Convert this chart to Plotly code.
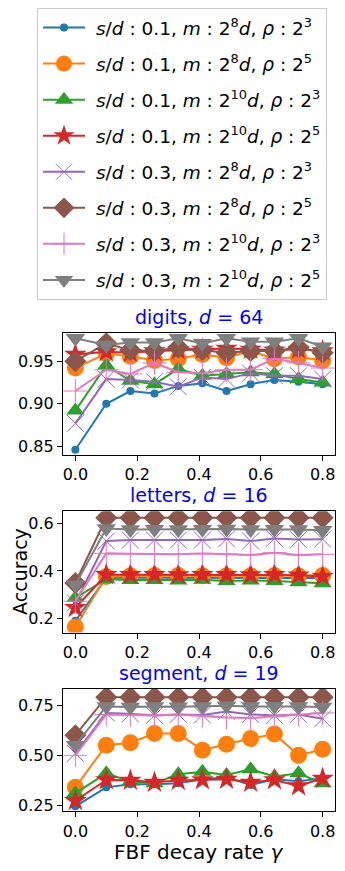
import plotly.graph_objects as go

# page body keeps an 8px margin, so lay out in reference pixels minus that offset
OFF = 8
FW, FH = 345 - 2 * OFF, 871 - 2 * OFF

GAMMA = [0.0, 0.1, 0.178, 0.256, 0.333, 0.411, 0.489, 0.567, 0.644, 0.722, 0.8]

LABELS = [
    "<i>s</i>/<i>d</i> : 0.1, <i>m</i> : 2<sup>8</sup><i>d</i>, <i>ρ</i> : 2<sup>3</sup>",
    "<i>s</i>/<i>d</i> : 0.1, <i>m</i> : 2<sup>8</sup><i>d</i>, <i>ρ</i> : 2<sup>5</sup>",
    "<i>s</i>/<i>d</i> : 0.1, <i>m</i> : 2<sup>10</sup><i>d</i>, <i>ρ</i> : 2<sup>3</sup>",
    "<i>s</i>/<i>d</i> : 0.1, <i>m</i> : 2<sup>10</sup><i>d</i>, <i>ρ</i> : 2<sup>5</sup>",
    "<i>s</i>/<i>d</i> : 0.3, <i>m</i> : 2<sup>8</sup><i>d</i>, <i>ρ</i> : 2<sup>3</sup>",
    "<i>s</i>/<i>d</i> : 0.3, <i>m</i> : 2<sup>8</sup><i>d</i>, <i>ρ</i> : 2<sup>5</sup>",
    "<i>s</i>/<i>d</i> : 0.3, <i>m</i> : 2<sup>10</sup><i>d</i>, <i>ρ</i> : 2<sup>3</sup>",
    "<i>s</i>/<i>d</i> : 0.3, <i>m</i> : 2<sup>10</sup><i>d</i>, <i>ρ</i> : 2<sup>5</sup>",
]

DIGITS = [
    [0.846, 0.900, 0.915, 0.912, 0.921, 0.924, 0.915, 0.923, 0.928, 0.926, 0.923],
    [0.942, 0.959, 0.956, 0.951, 0.953, 0.958, 0.954, 0.962, 0.953, 0.955, 0.951],
    [0.892, 0.945, 0.927, 0.923, 0.941, 0.933, 0.935, 0.937, 0.935, 0.929, 0.925],
    [0.958, 0.961, 0.960, 0.962, 0.963, 0.964, 0.965, 0.964, 0.963, 0.964, 0.962],
    [0.877, 0.929, 0.928, 0.926, 0.920, 0.931, 0.929, 0.936, 0.933, 0.933, 0.929],
    [0.950, 0.971, 0.963, 0.962, 0.966, 0.963, 0.960, 0.962, 0.962, 0.966, 0.960],
    [0.915, 0.940, 0.935, 0.948, 0.937, 0.936, 0.940, 0.940, 0.953, 0.948, 0.942],
    [0.977, 0.969, 0.972, 0.972, 0.977, 0.971, 0.977, 0.973, 0.973, 0.977, 0.967],
]

LETTERS = [
    [0.190, 0.370, 0.372, 0.372, 0.372, 0.372, 0.371, 0.372, 0.372, 0.370, 0.370],
    [0.164, 0.377, 0.380, 0.381, 0.381, 0.380, 0.380, 0.380, 0.381, 0.379, 0.381],
    [0.286, 0.365, 0.362, 0.362, 0.360, 0.363, 0.358, 0.360, 0.358, 0.352, 0.348],
    [0.245, 0.384, 0.384, 0.384, 0.383, 0.384, 0.384, 0.383, 0.384, 0.382, 0.377],
    [0.265, 0.526, 0.530, 0.530, 0.530, 0.530, 0.535, 0.526, 0.537, 0.532, 0.534],
    [0.349, 0.624, 0.624, 0.624, 0.624, 0.624, 0.624, 0.624, 0.624, 0.624, 0.624],
    [0.272, 0.474, 0.472, 0.472, 0.470, 0.474, 0.472, 0.467, 0.477, 0.467, 0.470],
    [0.342, 0.579, 0.575, 0.576, 0.575, 0.576, 0.577, 0.575, 0.576, 0.575, 0.572],
]

SEGMENT = [
    [0.245, 0.340, 0.355, 0.355, 0.360, 0.380, 0.390, 0.352, 0.380, 0.370, 0.385],
    [0.340, 0.551, 0.563, 0.609, 0.609, 0.526, 0.556, 0.584, 0.607, 0.500, 0.531],
    [0.311, 0.410, 0.369, 0.360, 0.405, 0.418, 0.402, 0.430, 0.394, 0.410, 0.360],
    [0.273, 0.377, 0.375, 0.365, 0.374, 0.377, 0.380, 0.365, 0.377, 0.347, 0.385],
    [0.510, 0.712, 0.708, 0.700, 0.705, 0.702, 0.720, 0.705, 0.700, 0.705, 0.683],
    [0.601, 0.791, 0.791, 0.791, 0.791, 0.791, 0.791, 0.791, 0.791, 0.791, 0.791],
    [0.500, 0.705, 0.702, 0.700, 0.705, 0.698, 0.690, 0.687, 0.695, 0.705, 0.712],
    [0.551, 0.745, 0.742, 0.745, 0.743, 0.745, 0.748, 0.745, 0.746, 0.745, 0.742],
]

COLORS = ["#1f77b4", "#ff7f0e", "#2ca02c", "#d62728",
          "#9467bd", "#8c564b", "#e377c2", "#7f7f7f"]
SYMBOLS = ["circle", "circle", "triangle-up", "star",
           "x-thin", "diamond", "cross-thin", "triangle-down"]
SIZES = [8, 17, 16, 17, 17, 17, 17, 17]

PANELS = [
    ("digits, <i>d</i> = 64", DIGITS, [0.84, 0.9835], [0.85, 0.90, 0.95], ".2f"),
    ("letters, <i>d</i> = 16", LETTERS, [0.14, 0.652], [0.2, 0.4, 0.6], ".1f"),
    ("segment, <i>d</i> = 19", SEGMENT, [0.22, 0.8325], [0.25, 0.50, 0.75], ".2f"),
]
# axes boxes in reference pixels (top, bottom)
BOXES = [(333, 456), (512.7, 635), (691.7, 815)]
X0, X1 = 63, 335
FONT = "DejaVu Sans"


def xp(px):
    return (px - OFF) / FW


def yp(py):
    return 1 - (py - OFF) / FH


fig = go.Figure()
for p, (title, data, yr, yt, yf) in enumerate(PANELS):
    ax = "" if p == 0 else str(p + 1)
    for i, series in enumerate(data):
        thin = SYMBOLS[i].endswith("thin")
        fig.add_trace(go.Scatter(
            x=GAMMA, y=series, mode="lines+markers",
            xaxis="x" + ax, yaxis="y" + ax,
            name="\u00a0" + LABELS[i], legendgroup=str(i), showlegend=(p == 0),
            line=dict(color=COLORS[i], width=2),
            marker=dict(symbol=SYMBOLS[i], size=SIZES[i], color=COLORS[i],
                        line=dict(width=1 if thin else 0, color=COLORS[i])),
        ))
    top, bot = BOXES[p]
    axis_style = dict(showline=True, mirror=True, linecolor="black", linewidth=1.2,
                      ticks="outside", ticklen=5, tickcolor="black", showgrid=False,
                      zeroline=False, tickfont=dict(family=FONT, size=16, color="black"))
    fig.update_layout({
        "xaxis" + ax: dict(domain=[xp(X0), xp(X1)], range=[-0.04, 0.84],
                           tickvals=[0, 0.2, 0.4, 0.6, 0.8], tickformat=".1f",
                           anchor="y" + ax, **axis_style),
        "yaxis" + ax: dict(domain=[yp(bot), yp(top)], range=yr,
                           tickvals=yt, tickformat=yf, anchor="x" + ax, **axis_style),
    })
    fig.add_annotation(x=xp((X0 + X1) / 2), y=yp(top - 16), xref="paper", yref="paper",
                       text=title, showarrow=False, xanchor="center", yanchor="middle",
                       font=dict(family=FONT, size=19, color="#0000ff"))

fig.add_annotation(x=0, y=yp((BOXES[1][0] + BOXES[1][1]) / 2),
                   xref="paper", yref="paper", text="Accuracy", textangle=-90,
                   xanchor="left", yanchor="middle", borderpad=0,
                   showarrow=False, font=dict(family=FONT, size=19, color="black"))
fig.add_annotation(x=xp((X0 + X1) / 2), y=yp(856), xref="paper", yref="paper",
                   text="FBF decay rate <i>γ</i>", showarrow=False,
                   xanchor="center", yanchor="middle",
                   font=dict(family=FONT, size=20, color="black"))

fig.update_layout(
    width=FW, height=FH,
    margin=dict(l=0, r=0, t=0, b=0),
    paper_bgcolor="white", plot_bgcolor="white",
    font=dict(family=FONT, color="black"),
    showlegend=True,
    legend=dict(x=xp(37), y=yp(6), xanchor="left", yanchor="top",
                bordercolor="#cccccc", borderwidth=1, bgcolor="white",
                font=dict(family=FONT, size=18.5, color="black"),
                itemwidth=42, tracegroupgap=9),
)

fig.write_html("out.html")
